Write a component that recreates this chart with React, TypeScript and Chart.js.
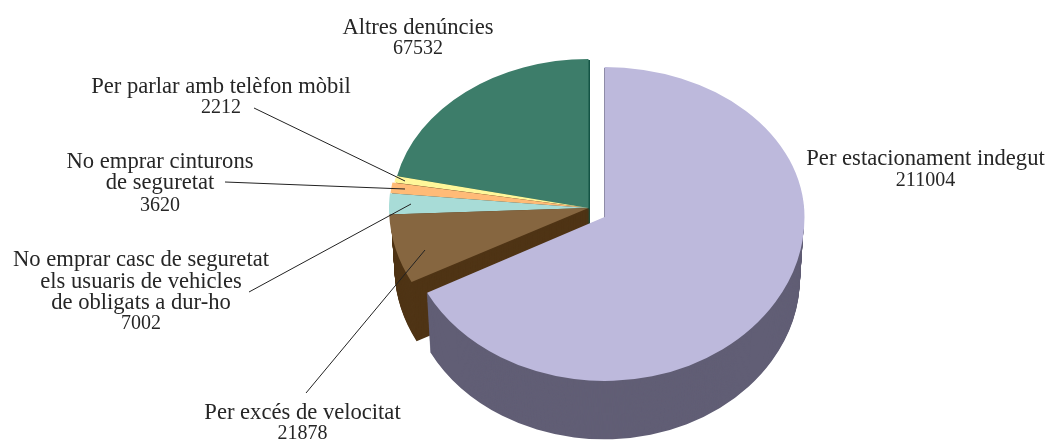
import React, { useEffect, useRef } from "react";
import { Chart, registerables } from "chart.js";

Chart.register(...registerables);

const categories = [
  "Per estacionament indegut",
  "Per excés de velocitat",
  "No emprar casc de seguretat els usuaris de vehicles de obligats a dur-ho",
  "No emprar cinturons de seguretat",
  "Per parlar amb telèfon mòbil",
  "Altres denúncies",
];
const values = [211004, 21878, 7002, 3620, 2212, 67532];
const topColors = ["#BDB9DC", "#866640", "#A8DCD7", "#FFBB77", "#FFF79A", "#3D7D6A"];
const sideColors = ["#615E75", "#4F3415", "#4F3415", "#4F3415", "#4F3415", "#145445"];
const labelLines = [
  ["Per estacionament indegut"],
  ["Per excés de velocitat"],
  ["No emprar casc de seguretat", "els usuaris de vehicles", "de obligats a dur-ho"],
  ["No emprar cinturons", "de seguretat"],
  ["Per parlar amb telèfon mòbil"],
  ["Altres denúncies"],
];

// layout only
const labelCenters = [925.5, 302.5, 141, 160, 221, 418];
const labelBaselines = [
  [165, 186],
  [419, 439],
  [266, 288, 309, 329],
  [168, 189, 211],
  [93, 113],
  [34, 54],
];
const leaders = [
  null,
  [306, 393, 425, 250],
  [249, 292, 411, 204],
  [225, 182, 405, 189],
  [254, 108, 405, 181],
  null,
];
const sliceRx = [200, 199.5, 199.5, 199, 197, 196];
const DEPTH = 60;
const exploded = { cx: 604.5, stackCx: 604, cy: 217, ryTop: 150, ryBot: 164 };
const rest = { cx: 588.5, stackCx: 590, cy: 208, ryTop: 149, ryBot: 160 };

function paintSlice(ctx: any, el: any, color: string, cx: number, cy: number, rx: number, ryTop: number, ryBot: number, W: number, H: number) {
  const clone = Object.create(el);
  clone.options = { ...el.options, backgroundColor: color, borderWidth: 0 };
  const R = el.outerRadius;
  for (const [y0, y1, ry] of [[0, cy, ryTop], [cy, H + 80, ryBot]] as number[][]) {
    ctx.save();
    ctx.beginPath();
    ctx.rect(0, y0, W, y1 - y0);
    ctx.clip();
    ctx.translate(cx, cy);
    ctx.scale(rx / R, ry / R);
    ctx.translate(-el.x, -el.y);
    clone.draw(ctx);
    ctx.restore();
  }
}

let annotated = false;
function drawAnnotations(ctx: any) {
  if (annotated) return;
  annotated = true;
  ctx.save();
  ctx.strokeStyle = "#222222";
  ctx.lineWidth = 1;
  for (const l of leaders) {
    if (!l) continue;
    ctx.beginPath();
    ctx.moveTo(l[0], l[1]);
    ctx.lineTo(l[2], l[3]);
    ctx.stroke();
  }
  ctx.fillStyle = "#262626";
  ctx.textAlign = "center";
  ctx.textBaseline = "alphabetic";
  categories.forEach((_, i) => {
    const lines = labelLines[i];
    ctx.font = '22.6px "Liberation Serif"';
    lines.forEach((t, k) => ctx.fillText(t, labelCenters[i], labelBaselines[i][k]));
    ctx.font = '20px "Liberation Serif"';
    ctx.fillText(String(values[i]), labelCenters[i], labelBaselines[i][lines.length]);
  });
  ctx.restore();
}

const pie3d = {
  id: "pie3d",
  beforeDatasetsDraw(chart: any) {
    const { ctx, width: W, height: H } = chart;
    const arcs = chart.getDatasetMeta(0).data;
    const order = [5, 4, 3, 2, 1, 0];
    for (const i of order) {
      const g = i === 0 ? exploded : rest;
      for (let d = DEPTH; d >= 1; d--) {
        const t = d / DEPTH;
        paintSlice(ctx, arcs[i], sideColors[i], g.stackCx, g.cy + d, sliceRx[i] * (1 - 0.02 * t), g.ryTop * (1 - 0.01 * t), g.ryBot * (1 - 0.01 * t), W, H);
      }
    }
    for (const i of order) {
      const g = i === 0 ? exploded : rest;
      paintSlice(ctx, arcs[i], topColors[i], g.cx, g.cy, sliceRx[i], g.ryTop, g.ryBot, W, H);
    }
    return false;
  },
  afterDraw(chart: any) {
    drawAnnotations(chart.ctx);
  },
};

export default function App() {
  const ref = useRef<HTMLCanvasElement | null>(null);
  useEffect(() => {
    annotated = false;
    const chart = new Chart(ref.current as HTMLCanvasElement, {
      type: "pie",
      data: {
        labels: categories,
        datasets: [{ data: values, backgroundColor: topColors, borderWidth: 0 }],
      },
      options: {
        responsive: false,
        animation: false,
        rotation: 0,
        plugins: { legend: { display: false }, tooltip: { enabled: false } },
      },
      plugins: [pie3d],
    } as any);
    return () => chart.destroy();
  }, []);
  return (
    <canvas
      ref={ref}
      width={1050}
      height={441}
      style={{ position: "absolute", left: 0, top: 0, display: "block" }}
    />
  );
}
